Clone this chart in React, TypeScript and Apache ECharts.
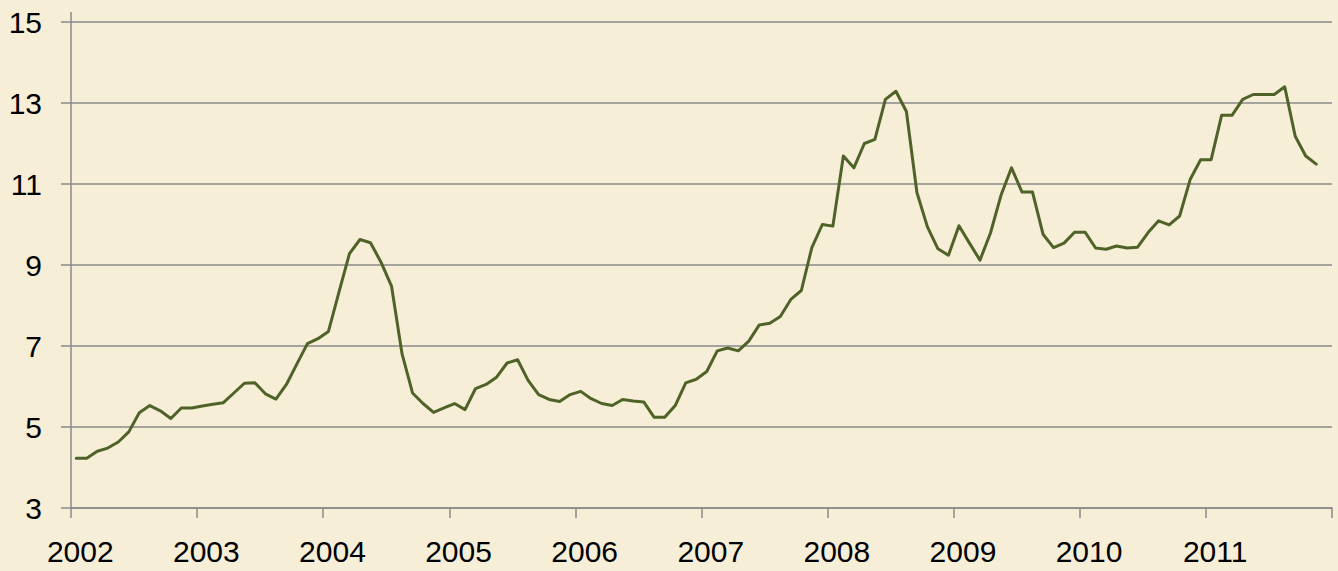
import React, { useEffect, useRef } from "react";
import * as echarts from "echarts";

// Years shown on the horizontal axis (one label per January)
const years = [2002, 2003, 2004, 2005, 2006, 2007, 2008, 2009, 2010, 2011];
const months = ["01", "02", "03", "04", "05", "06", "07", "08", "09", "10", "11", "12"];

// Monthly values
const v2002 = [4.23, 4.23, 4.4, 4.48, 4.63, 4.88, 5.35, 5.53, 5.4, 5.21, 5.47, 5.47];
const v2003 = [5.52, 5.56, 5.6, 5.84, 6.08, 6.09, 5.82, 5.69, 6.05, 6.56, 7.06, 7.18];
const v2004 = [7.36, 8.33, 9.28, 9.63, 9.55, 9.07, 8.48, 6.81, 5.84, 5.58, 5.36, 5.47];
const v2005 = [5.58, 5.43, 5.95, 6.05, 6.23, 6.58, 6.66, 6.15, 5.8, 5.68, 5.63, 5.8];
const v2006 = [5.88, 5.7, 5.58, 5.53, 5.68, 5.64, 5.62, 5.24, 5.24, 5.53, 6.09, 6.18];
const v2007 = [6.37, 6.88, 6.95, 6.88, 7.12, 7.52, 7.56, 7.73, 8.15, 8.37, 9.43, 10.0];
const v2008 = [9.96, 11.69, 11.4, 12.0, 12.1, 13.09, 13.29, 12.79, 10.79, 9.94, 9.4, 9.24];
const v2009 = [9.97, 9.54, 9.12, 9.79, 10.72, 11.4, 10.8, 10.8, 9.76, 9.43, 9.54, 9.81];
const v2010 = [9.81, 9.42, 9.39, 9.47, 9.42, 9.44, 9.8, 10.09, 9.99, 10.21, 11.11, 11.6];
const v2011 = [11.6, 12.7, 12.7, 13.09, 13.21, 13.21, 13.21, 13.4, 12.18, 11.69, 11.49];

// Value axis ticks
const yMin = 3;
const yMax = 15;
const yStep = 2;

const categories: string[] = [];
years.forEach((y) => months.forEach((m) => categories.push(`${y}-${m}`)));
const values = [
  ...v2002, ...v2003, ...v2004, ...v2005, ...v2006,
  ...v2007, ...v2008, ...v2009, ...v2010, ...v2011,
];

const BG = "#f7eed8";
const AXIS = "#8a8a8a";
const FONT = "'Liberation Sans', Arial, sans-serif";

export default function App() {
  const ref = useRef<HTMLDivElement>(null);
  useEffect(() => {
    if (!ref.current) return;
    const chart = echarts.init(ref.current, undefined, { renderer: "svg" });
    chart.setOption({
      animation: false,
      backgroundColor: BG,
      grid: { left: 71, right: 6, top: 22, bottom: 63, containLabel: false },
      xAxis: {
        type: "category",
        data: categories,
        boundaryGap: true,
        axisLine: { show: true, lineStyle: { color: AXIS, width: 1.5 } },
        axisTick: { show: true, interval: 11, length: 10, lineStyle: { color: AXIS, width: 1.5 } },
        axisLabel: {
          interval: 11,
          margin: 28,
          fontSize: 30,
          fontFamily: FONT,
          color: "#000",
          padding: [0, 0, 0, 8],
          formatter: (v: string) => v.slice(0, 4),
        },
        splitLine: { show: false },
      },
      yAxis: {
        type: "value",
        min: yMin,
        max: yMax,
        interval: yStep,
        axisLine: { show: true, lineStyle: { color: AXIS, width: 1.5 } },
        axisTick: { show: true, length: 10, lineStyle: { color: AXIS, width: 1.5 } },
        axisLabel: { margin: 29, fontSize: 30, fontFamily: FONT, color: "#000" },
        splitLine: { show: true, lineStyle: { color: AXIS, width: 1.5 } },
      },
      graphic: [
        {
          type: "line",
          shape: { x1: 71, y1: 12, x2: 71, y2: 22 },
          style: { stroke: AXIS, lineWidth: 1.5 },
          silent: true,
        },
      ],
      series: [
        {
          type: "line",
          data: values,
          symbol: "none",
          lineStyle: { color: "#4f6228", width: 3, join: "round", cap: "round" },
        },
      ],
    });
    return () => chart.dispose();
  }, []);
  return (
    <div
      ref={ref}
      style={{ position: "absolute", left: 0, top: 0, width: 1338, height: 571, background: BG }}
    />
  );
}
